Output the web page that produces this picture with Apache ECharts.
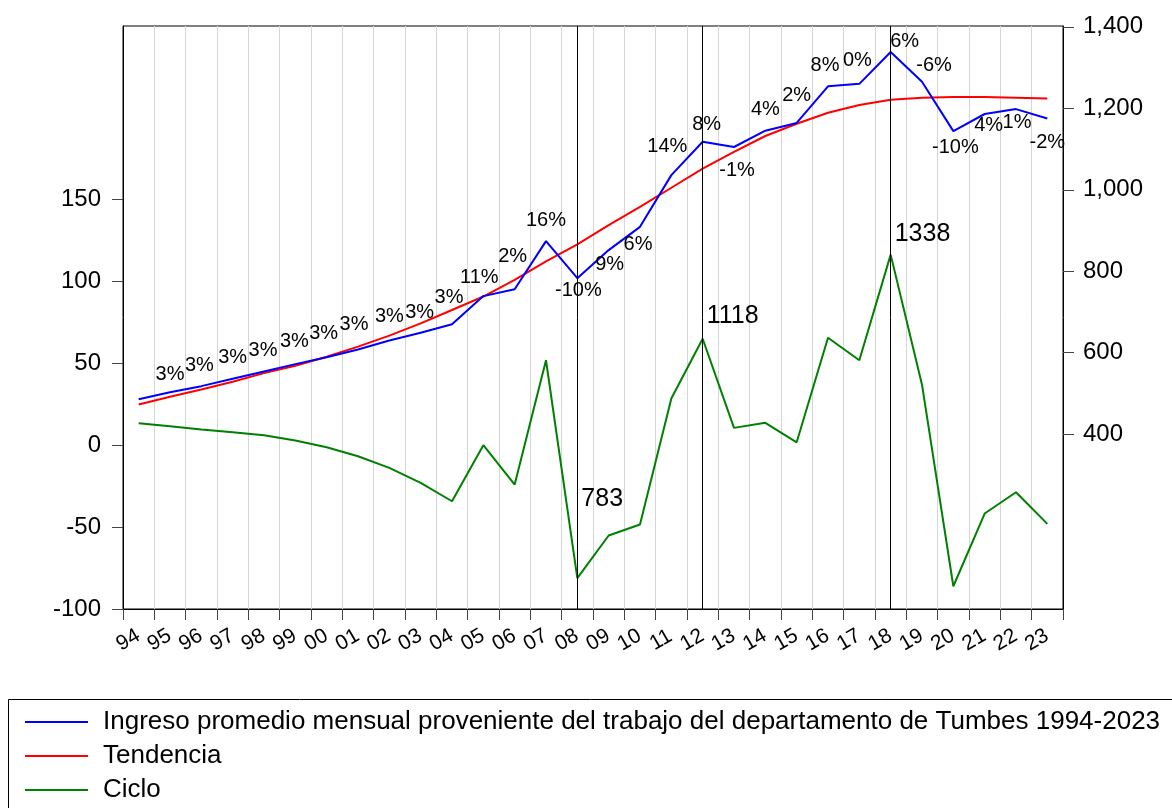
<!DOCTYPE html>
<html>
<head>
<meta charset="utf-8">
<script src="https://cdn.jsdelivr.net/npm/echarts@6/dist/echarts.min.js"></script>
<style>
  html, body { margin: 0; padding: 0; background: #fff; }
  #chart { width: 1172px; height: 808px; }
</style>
</head>
<body>
<div id="chart"></div>
<script>
// años 1994-2023
var years = ['94', '95', '96', '97', '98', '99', '00', '01', '02', '03', '04', '05', '06', '07', '08',
  '09', '10', '11', '12', '13', '14', '15', '16', '17', '18', '19', '20', '21', '22', '23']

// ingreso promedio mensual (eje derecho)
var ingreso = [486, 503, 518, 536, 554, 572, 589, 608, 630, 649, 670, 739, 756, 874, 783,
  852, 909, 1036, 1118, 1105, 1145, 1164, 1254, 1260, 1338, 1265, 1144, 1186, 1198, 1175]

// tendencia HP (eje derecho)
var tendencia = [473, 492, 510, 529, 550, 568, 590, 615, 642, 672, 705, 738, 779, 824, 866,
  913, 958, 1005, 1052, 1093, 1132, 1162, 1189, 1208, 1221, 1226, 1228, 1228, 1226, 1224]

// ciclo (eje izquierdo)
var ciclo = [13.4, 11.6, 9.6, 7.9, 6.1, 2.9, -1.2, -6.7, -13.8, -23, -34.2, 0, -24, 51.9, -81.2,
  -55.1, -48.4, 28.5, 65, 10.6, 13.7, 1.8, 65.6, 51.9, 116.4, 37, -86.1, -41.7, -28.7, -48]

// tasas de crecimiento mostradas sobre la serie
var crecimiento = ['', '3%', '3%', '3%', '3%', '3%', '3%', '3%', '3%', '3%', '3%', '11%', '2%', '16%', '-10%',
  '9%', '6%', '14%', '8%', '-1%', '4%', '2%', '8%', '0%', '6%', '-6%', '-10%', '4%', '1%', '-2%']

// ticks de los ejes
var leftTicks = [-100, -50, 0, 50, 100, 150]
var rightTicks = [400, 600, 800, 1000, 1200, 1400]

// años marcados con linea vertical
var marcados = ['08', '12', '18']

// --- estilo (no datos) ---
var labelOffsets = [[0, 0], [0, -18], [-2, -21], [0, -21], [-1, -21], [-1, -23], [-3, -24], [-4, -25], [0, -24], [-1, -20], [-3, -27],
  [-4, -19], [-2, -33], [0, -21], [1, 12], [1, 14], [-2, 18], [-4, -29], [4, -17], [3, 23], [0, -21], [0, -27],
  [-3, -21], [-2, -23], [14, -11], [12, -16], [2, 16], [4, 11], [1, 13], [0, 24]]
var marcadosAltura = [-33, 79, 129] // altura (eje izq.) de los textos 783/1118/1338

var font = 'Liberation Sans, Arial, sans-serif'

var ingresoData = []
for (var i = 0; i < years.length; i++) {
  ingresoData.push({
    value: ingreso[i],
    label: {
      show: crecimiento[i] !== '',
      formatter: crecimiento[i],
      position: 'inside',
      offset: labelOffsets[i]
    }
  })
}

var markPts = []
for (var k = 0; k < marcados.length; k++) {
  markPts.push({
    coord: [marcados[k], marcadosAltura[k]],
    value: ingreso[years.indexOf(marcados[k])]
  })
}

var option = {
  animation: false,
  backgroundColor: '#fff',
  textStyle: { fontFamily: font },
  grid: {
    show: true,
    left: 123,
    top: 26,
    width: 940,
    height: 583,
    borderColor: '#000',
    borderWidth: 1,
    backgroundColor: 'transparent'
  },
  legend: {
    orient: 'vertical',
    left: 25,
    top: 709,
    height: 110,
    padding: 0,
    itemWidth: 63,
    itemHeight: 2,
    itemGap: 8,
    icon: 'rect',
    textStyle: {
      fontFamily: font,
      fontSize: 26,
      color: '#000',
      lineHeight: 26,
      padding: [0, 0, 0, 10]
    },
    data: [
      'Ingreso promedio mensual proveniente del trabajo del departamento de Tumbes 1994-2023',
      'Tendencia',
      'Ciclo'
    ]
  },
  graphic: [{
    type: 'rect',
    shape: { x: 8.5, y: 699.5, width: 1200, height: 200 },
    style: { fill: 'none', stroke: '#000', lineWidth: 1 },
    silent: true
  }],
  xAxis: [{
    type: 'category',
    data: years,
    boundaryGap: true,
    axisLine: { show: true, onZero: false, lineStyle: { color: '#000', width: 1 } },
    axisTick: { show: true, interval: 0, length: 11, lineStyle: { color: '#444' } },
    axisLabel: { show: false },
    splitLine: { show: true, interval: 0, lineStyle: { color: '#d6d6d6', width: 1 } }
  }, {
    // solo para las etiquetas de año, ubicadas en los bordes de cada banda
    type: 'category',
    position: 'bottom',
    data: years.concat(['']),
    boundaryGap: false,
    axisLine: { show: false, onZero: false },
    axisTick: { show: false },
    splitLine: { show: false },
    axisLabel: {
      show: true,
      interval: 0,
      rotate: 30,
      align: 'center',
      verticalAlign: 'top',
      margin: 22,
      fontSize: 21,
      fontFamily: font,
      color: '#000'
    }
  }],
  yAxis: [{
    type: 'value',
    position: 'left',
    min: -100,
    max: 256,
    interval: 50,
    axisLine: { show: true, lineStyle: { color: '#000', width: 1 } },
    axisTick: { show: true, length: 11, customValues: leftTicks, lineStyle: { color: '#444' } },
    axisLabel: { customValues: leftTicks, fontSize: 24, fontFamily: font, color: '#000', margin: 22 },
    splitLine: { show: false }
  }, {
    type: 'value',
    position: 'right',
    min: -29,
    max: 1402,
    interval: 200,
    axisLine: { show: true, lineStyle: { color: '#000', width: 1 } },
    axisTick: { show: true, length: 11, customValues: rightTicks, lineStyle: { color: '#444' } },
    axisLabel: {
      customValues: rightTicks,
      fontSize: 24,
      fontFamily: font,
      color: '#000',
      margin: 20,
      formatter: function (v) { return v.toLocaleString('en-US') }
    },
    splitLine: { show: false }
  }],
  series: [{
    name: 'Ingreso promedio mensual proveniente del trabajo del departamento de Tumbes 1994-2023',
    type: 'line',
    xAxisIndex: 0,
    yAxisIndex: 1,
    data: ingresoData,
    symbol: 'circle',
    symbolSize: 0,
    showSymbol: true,
    lineStyle: { color: '#0000ff', width: 2 },
    itemStyle: { color: '#0000ff' },
    label: { fontSize: 20, fontFamily: font, color: '#000' },
    z: 4,
    markLine: {
      silent: true,
      symbol: ['none', 'none'],
      label: { show: false },
      lineStyle: { color: '#000', width: 1, type: 'solid' },
      data: marcados.map(function (y) { return { xAxis: y } })
    }
  }, {
    name: 'Tendencia',
    type: 'line',
    xAxisIndex: 0,
    yAxisIndex: 1,
    data: tendencia,
    symbol: 'none',
    lineStyle: { color: '#ff0000', width: 2 },
    itemStyle: { color: '#ff0000' },
    z: 3
  }, {
    name: 'Ciclo',
    type: 'line',
    xAxisIndex: 0,
    yAxisIndex: 0,
    data: ciclo,
    symbol: 'none',
    lineStyle: { color: '#008000', width: 2 },
    itemStyle: { color: '#008000' },
    z: 3,
    markPoint: {
      symbol: 'circle',
      symbolSize: 0,
      silent: true,
      label: {
        show: true,
        position: 'right',
        distance: 4,
        fontSize: 25,
        fontFamily: font,
        color: '#000',
        formatter: '{c}'
      },
      data: markPts
    }
  }]
}

var chart = echarts.init(document.getElementById('chart'))
chart.setOption(option)
</script>
</body>
</html>
